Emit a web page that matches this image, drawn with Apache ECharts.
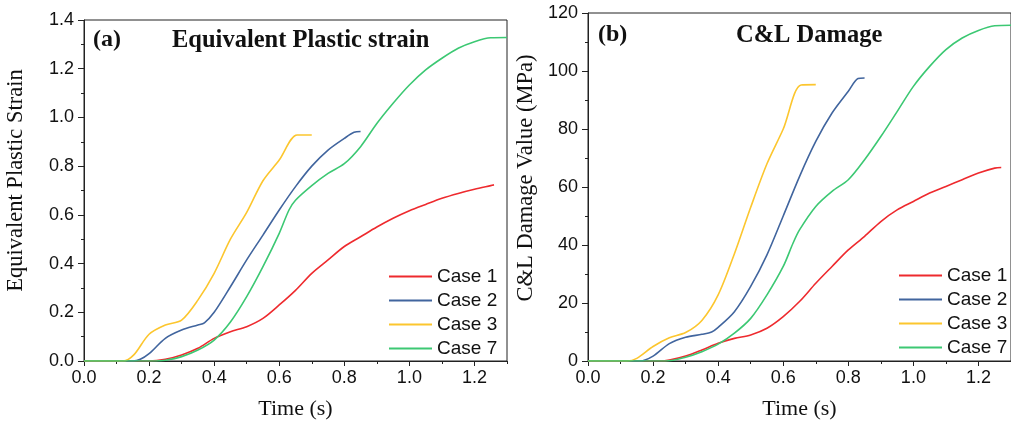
<!DOCTYPE html>
<html>
<head>
	<meta charset="utf-8" />
	<title>Equivalent Plastic strain / C&amp;L Damage</title>
	<script src="https://cdn.jsdelivr.net/npm/echarts@6/dist/echarts.min.js"></script>
	<style>
		html, body { margin: 0; padding: 0; background: #fff; }
		#main { width: 1011px; height: 430px; }
	</style>
</head>
<body>
	<div id="main"></div>
	<script type="text/javascript">
		// 图例名称
		var caseNames = ['Case 1', 'Case 2', 'Case 3', 'Case 7'];
		var caseColors = ['#ee2a2e', '#41659e', '#fcc62e', '#3cc873'];
		var xTickLabels = [0, 0.2, 0.4, 0.6, 0.8, 1.0, 1.2];

		// (a) Equivalent plastic strain, [time, value]
		var strainCase1 = [[0, 0], [0.2, 0], [0.25, 0.007], [0.3, 0.025], [0.35, 0.052], [0.4, 0.093], [0.45, 0.12], [0.5, 0.141], [0.55, 0.175], [0.6, 0.23], [0.65, 0.29], [0.7, 0.36], [0.75, 0.415], [0.8, 0.47], [0.85, 0.51], [0.9, 0.55], [0.95, 0.586], [1.0, 0.617], [1.05, 0.643], [1.1, 0.668], [1.15, 0.688], [1.2, 0.705], [1.25, 0.72], [1.26, 0.723]];
		var strainCase2 = [[0, 0], [0.15, 0], [0.173, 0.007], [0.2, 0.03], [0.25, 0.093], [0.3, 0.127], [0.35, 0.148], [0.37, 0.157], [0.4, 0.2], [0.45, 0.305], [0.5, 0.415], [0.55, 0.517], [0.6, 0.62], [0.65, 0.716], [0.7, 0.8], [0.75, 0.866], [0.8, 0.914], [0.83, 0.939], [0.85, 0.942]];
		var strainCase3 = [[0, 0], [0.12, 0], [0.153, 0.025], [0.2, 0.11], [0.25, 0.148], [0.3, 0.168], [0.35, 0.25], [0.4, 0.36], [0.45, 0.5], [0.5, 0.61], [0.55, 0.74], [0.6, 0.825], [0.655, 0.928], [0.7, 0.928]];
		var strainCase7 = [[0, 0], [0.22, 0], [0.25, 0.003], [0.3, 0.018], [0.35, 0.045], [0.4, 0.086], [0.45, 0.16], [0.5, 0.264], [0.55, 0.387], [0.6, 0.524], [0.63, 0.62], [0.65, 0.66], [0.7, 0.72], [0.75, 0.77], [0.8, 0.81], [0.85, 0.88], [0.9, 0.975], [0.95, 1.058], [1.0, 1.133], [1.05, 1.195], [1.1, 1.243], [1.15, 1.284], [1.2, 1.311], [1.25, 1.327], [1.3, 1.328]];

		// (b) C&L damage value (MPa), [time, value]
		var damageCase1 = [[0, 0], [0.22, 0], [0.25, 0.3], [0.3, 1.7], [0.35, 3.8], [0.4, 6.1], [0.45, 7.8], [0.5, 9], [0.55, 11.3], [0.6, 15.3], [0.65, 20.5], [0.7, 26.8], [0.75, 32.6], [0.8, 38.3], [0.85, 43], [0.9, 48.1], [0.95, 52.1], [1.0, 55], [1.05, 57.9], [1.1, 60.2], [1.15, 62.5], [1.2, 64.8], [1.25, 66.5], [1.27, 66.7]];
		var damageCase2 = [[0, 0], [0.16, 0], [0.2, 1.7], [0.25, 6], [0.3, 8.2], [0.35, 9.2], [0.38, 10], [0.4, 11.6], [0.45, 17], [0.5, 25.7], [0.55, 36.6], [0.6, 50], [0.65, 63.6], [0.7, 75.7], [0.75, 85.5], [0.8, 93], [0.83, 97.4], [0.85, 97.6]];
		var damageCase3 = [[0, 0], [0.12, 0], [0.15, 0.9], [0.2, 5], [0.25, 8], [0.3, 9.8], [0.35, 14], [0.4, 22.8], [0.45, 37], [0.5, 53], [0.55, 68], [0.6, 80], [0.655, 95.2], [0.7, 95.3]];
		var damageCase7 = [[0, 0], [0.24, 0], [0.3, 1.3], [0.35, 3.2], [0.4, 5.8], [0.45, 9.6], [0.5, 14.7], [0.55, 22.8], [0.6, 32.6], [0.63, 40.6], [0.65, 45.2], [0.7, 53.3], [0.75, 58.5], [0.8, 62.5], [0.85, 69.4], [0.9, 77.4], [0.95, 86], [1.0, 94.7], [1.05, 101.6], [1.1, 107.4], [1.15, 111.4], [1.2, 114], [1.25, 115.6], [1.3, 115.8]];

		var strainData = [strainCase1, strainCase2, strainCase3, strainCase7];
		var damageData = [damageCase1, damageCase2, damageCase3, damageCase7];

		var sans = 'Liberation Sans';
		var serif = 'Liberation Serif';

		function mainX(gridIndex) {
			return {
				type: 'value', gridIndex: gridIndex, position: 'bottom',
				min: 0, max: 1.3, interval: 0.2,
				name: 'Time (s)', nameLocation: 'middle', nameGap: 37,
				nameTextStyle: { fontFamily: serif, fontSize: 22, color: '#111' },
				axisLine: { lineStyle: { color: '#222', width: 1 } },
				axisTick: { inside: false, length: 5, customValues: xTickLabels, lineStyle: { color: '#222' } },
				axisLabel: { customValues: xTickLabels, fontFamily: sans, fontSize: 18, color: '#111', margin: 8,
					formatter: function(v) { return v.toFixed(1); } },
				splitLine: { show: false }
			};
		}

		function minorX(gridIndex) {
			return {
				type: 'value', gridIndex: gridIndex, position: 'bottom',
				min: 0, max: 1.3, interval: 0.1,
				axisLine: { show: false },
				axisTick: { inside: false, length: 3, lineStyle: { color: '#222' } },
				axisLabel: { show: false },
				splitLine: { show: false }
			};
		}

		function makeY(gridIndex, max, interval, name, gap, pad, digits) {
			return {
				type: 'value', gridIndex: gridIndex,
				min: 0, max: max, interval: interval,
				name: name, nameLocation: 'middle', nameGap: gap,
				nameTextStyle: { fontFamily: serif, fontSize: 22.5, color: '#111', padding: [0, 0, 0, pad] },
				axisLine: { show: true, lineStyle: { color: '#222', width: 1 } },
				axisTick: { show: true, inside: false, length: 6, lineStyle: { color: '#222' } },
				minorTick: { show: true, splitNumber: 2, length: 3, lineStyle: { color: '#222' } },
				axisLabel: { fontFamily: sans, fontSize: 18, color: '#111', margin: 10,
					formatter: function(v) { return v.toFixed(digits); } },
				splitLine: { show: false }
			};
		}

		var series = [];
		for (var i = 0; i < caseNames.length; i++) {
			series.push({
				name: caseNames[i], type: 'line', xAxisIndex: 0, yAxisIndex: 0,
				data: strainData[i], symbol: 'none', smooth: 0.3,
				lineStyle: { width: 1.6, color: caseColors[i] }, itemStyle: { color: caseColors[i] }
			});
		}
		for (var j = 0; j < caseNames.length; j++) {
			series.push({
				name: caseNames[j], type: 'line', xAxisIndex: 2, yAxisIndex: 1,
				data: damageData[j], symbol: 'none', smooth: 0.3,
				lineStyle: { width: 1.6, color: caseColors[j] }, itemStyle: { color: caseColors[j] }
			});
		}

		function makeLegend(left, top) {
			return {
				orient: 'vertical', left: left, top: top,
				data: caseNames, itemWidth: 43, itemHeight: 12, itemGap: 5,
				icon: 'path://M0,5L43,5L43,7L0,7Z',
				textStyle: { fontFamily: sans, fontSize: 19, color: '#111' },
				selectedMode: false
			};
		}

		var chart = echarts.init(document.getElementById('main'), null, { renderer: 'canvas' });
		var option = {
			backgroundColor: '#ffffff',
			animation: false,
			title: [
				{ text: '(a)', left: 88, top: 23, textStyle: { fontFamily: serif, fontWeight: 'bold', fontSize: 24, color: '#111' } },
				{ text: 'Equivalent Plastic strain', left: 167, top: 23, textStyle: { fontFamily: serif, fontWeight: 'bold', fontSize: 24.5, color: '#111' } },
				{ text: '(b)', left: 593, top: 18, textStyle: { fontFamily: serif, fontWeight: 'bold', fontSize: 24, color: '#111' } },
				{ text: 'C&L Damage', left: 731, top: 18, textStyle: { fontFamily: serif, fontWeight: 'bold', fontSize: 24.5, color: '#111' } }
			],
			legend: [makeLegend(384, 262), makeLegend(894, 261)],
			grid: [
				{ left: 84, top: 20, width: 423, height: 341, show: true, borderColor: '#222', borderWidth: 1, backgroundColor: 'transparent' },
				{ left: 588, top: 13, width: 431, height: 348, show: true, borderColor: '#222', borderWidth: 1, backgroundColor: 'transparent' }
			],
			xAxis: [mainX(0), minorX(0), mainX(1), minorX(1)],
			yAxis: [
				makeY(0, 1.4, 0.2, 'Equivalent Plastic Strain', 56, 20, 1),
				makeY(1, 120, 20, 'C&L Damage Value (MPa)', 50, 18, 0)
			],
			series: series
		};
		chart.setOption(option);
		window.onresize = chart.resize;
	</script>
</body>
</html>
